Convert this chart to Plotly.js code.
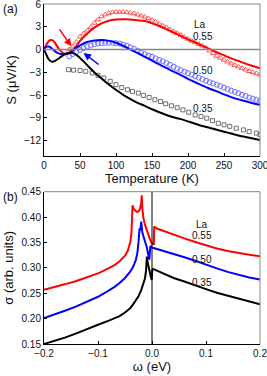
<!DOCTYPE html>
<html>
<head>
<meta charset="utf-8">
<script src="https://cdn.plot.ly/plotly-3.0.1.min.js"></script>
<style>html,body{margin:0;padding:0;background:#fff;}#chart{width:267px;height:376px;}</style>
</head>
<body>
<div id="chart"></div>
<script>
// ---------- Panel (a): thermopower S(T) ----------
var thTemp = [0,3,6,9,12,15,20,25,30,35,40,45,50,55,60,70,80,90,100,110,120,130,140,150,160,170,180,190,200,210,220,230,240,250,260,270,280,290,300];
var thS055 = [0,0.6,1.05,1.25,1.2,0.9,0.2,-0.35,-0.55,-0.45,-0.05,0.5,1.15,1.65,2.1,2.9,3.45,3.8,3.95,4.0,3.95,3.85,3.75,3.45,3.1,2.7,2.25,1.8,1.35,0.95,0.5,0.1,-0.35,-0.75,-1.15,-1.5,-1.85,-2.15,-2.45];
var thS050 = [0,0.35,0.4,0.3,0.05,-0.2,-0.5,-0.6,-0.55,-0.4,-0.1,0.25,0.55,0.8,1.0,1.2,1.25,1.15,0.9,0.5,0.0,-0.45,-0.95,-1.45,-1.95,-2.42,-2.9,-3.35,-3.85,-4.3,-4.75,-5.15,-5.5,-5.9,-6.25,-6.55,-6.8,-7.05,-7.27];
var thS035 = [0,-0.6,-1.2,-1.5,-1.6,-1.5,-1.2,-0.85,-0.6,-0.45,-0.45,-0.7,-1.1,-1.55,-2.05,-3.0,-3.8,-4.6,-5.3,-5.95,-6.5,-7.0,-7.4,-7.85,-8.25,-8.6,-8.9,-9.15,-9.45,-9.75,-10.05,-10.3,-10.55,-10.8,-11.05,-11.3,-11.5,-11.7,-11.9];

var expTemp5 = [35,40,45,50,55,60,65,70,75,80,85,90,95,100,105,110,115,120,125,130,135,140,145,150,155,160,165,170,175,180,185,190,195,200,205,210,215,220,225,230,235,240,245,250,255,260,265,270,275,280,285,290,295,300];
var expS055 = [0.0,0.4,1.0,1.7,2.1,2.5,2.95,3.5,3.95,4.35,4.6,4.8,4.9,4.95,4.95,4.95,4.9,4.85,4.75,4.6,4.45,4.3,4.1,3.9,3.65,3.4,3.15,2.9,2.64,2.4,2.15,1.9,1.65,1.4,1.15,0.95,0.72,0.5,0.2,-0.15,-0.5,-0.85,-1.1,-1.35,-1.6,-1.85,-2.05,-2.25,-2.45,-2.65,-2.85,-3.0,-3.15,-3.3];
var expS050 = [-0.9,-0.6,-0.3,-0.05,0.2,0.4,0.55,0.7,0.8,0.85,0.88,0.9,0.9,0.85,0.8,0.65,0.5,0.3,0.1,-0.15,-0.4,-0.6,-0.8,-0.95,-1.15,-1.35,-1.55,-1.76,-2.0,-2.25,-2.5,-2.7,-2.9,-3.1,-3.3,-3.5,-3.7,-3.9,-4.1,-4.3,-4.45,-4.62,-4.8,-5.0,-5.2,-5.4,-5.55,-5.75,-5.95,-6.1,-6.3,-6.45,-6.6,-6.7];
var expTemp035 = [34,41,50,58,67,75,83,92,100,108,116,123,131,138,146,154,162,169,177,185,193,201,210,218,226,234,242,250,258,267,277,285,295,300];
var expS035 = [-2.64,-2.7,-2.75,-2.86,-3.08,-3.39,-3.74,-4.18,-4.62,-5.0,-5.28,-5.5,-5.72,-6.03,-6.3,-6.6,-6.83,-7.13,-7.4,-7.65,-7.93,-8.25,-8.6,-8.8,-9.03,-9.35,-9.7,-9.9,-10.1,-10.35,-10.57,-10.8,-11.0,-11.2];

// ---------- Panel (b): sigma(omega) ----------
var omega055 = [-0.2,-0.18,-0.16,-0.14,-0.12,-0.10,-0.09,-0.08,-0.07,-0.06,-0.055,-0.05,-0.045,-0.042,-0.040,-0.038,-0.037,-0.036,-0.034,-0.031,-0.028,-0.025,-0.022,-0.020,-0.019,-0.018,-0.016,-0.013,-0.010,-0.007,-0.004,-0.001,0.001,0.0035,0.004,0.01,0.02,0.03,0.04,0.06,0.08,0.10,0.12,0.14,0.16,0.18,0.20];
var sigma055 = [0.257,0.262,0.268,0.274,0.281,0.289,0.294,0.299,0.305,0.313,0.318,0.324,0.333,0.342,0.352,0.37,0.39,0.423,0.416,0.412,0.410,0.411,0.416,0.428,0.443,0.42,0.398,0.385,0.375,0.366,0.357,0.350,0.347,0.347,0.381,0.377,0.373,0.370,0.366,0.358,0.351,0.344,0.338,0.333,0.329,0.326,0.323];
var omega050 = [-0.2,-0.18,-0.16,-0.14,-0.12,-0.10,-0.09,-0.08,-0.07,-0.06,-0.05,-0.04,-0.035,-0.03,-0.027,-0.025,-0.023,-0.022,-0.021,-0.020,-0.018,-0.016,-0.013,-0.010,-0.008,-0.006,-0.005,-0.004,-0.003,0.0,0.01,0.02,0.04,0.06,0.08,0.10,0.12,0.14,0.16,0.18,0.20];
var sigma050 = [0.201,0.208,0.216,0.224,0.233,0.243,0.249,0.255,0.262,0.27,0.28,0.293,0.302,0.315,0.33,0.35,0.378,0.374,0.38,0.391,0.37,0.36,0.352,0.342,0.333,0.322,0.316,0.33,0.343,0.34,0.337,0.334,0.327,0.321,0.314,0.306,0.299,0.292,0.286,0.281,0.277];
var omega035 = [-0.2,-0.18,-0.16,-0.14,-0.12,-0.10,-0.08,-0.06,-0.05,-0.04,-0.035,-0.03,-0.025,-0.02,-0.016,-0.013,-0.011,-0.0095,-0.008,-0.006,-0.004,-0.002,-0.0005,0.0005,0.002,0.01,0.02,0.04,0.06,0.08,0.10,0.12,0.14,0.16,0.18,0.20];
var sigma035 = [0.150,0.156,0.163,0.171,0.18,0.188,0.196,0.205,0.212,0.221,0.228,0.235,0.244,0.256,0.268,0.279,0.295,0.322,0.31,0.298,0.29,0.282,0.276,0.296,0.298,0.294,0.289,0.28,0.273,0.265,0.258,0.251,0.245,0.239,0.233,0.228];

var FONT = 'Liberation Sans, Arial, sans-serif';

var traces = [
  {x: expTemp5, y: expS055, mode: 'markers', xaxis: 'x', yaxis: 'y', marker: {symbol: 'triangle-up-open', size: 5, color: '#ff5a5a', line: {width: 1}}, showlegend: false},
  {x: expTemp5, y: expS050, mode: 'markers', xaxis: 'x', yaxis: 'y', marker: {symbol: 'circle-open', size: 5, color: '#7070ff', line: {width: 1}}, showlegend: false},
  {x: expTemp035, y: expS035, mode: 'markers', xaxis: 'x', yaxis: 'y', marker: {symbol: 'square-open', size: 4, color: '#707070', line: {width: 1}}, showlegend: false},
  {x: thTemp, y: thS055, mode: 'lines', xaxis: 'x', yaxis: 'y', line: {color: '#ff0000', width: 2, shape: 'spline'}, showlegend: false},
  {x: thTemp, y: thS050, mode: 'lines', xaxis: 'x', yaxis: 'y', line: {color: '#0000ff', width: 2, shape: 'spline'}, showlegend: false},
  {x: thTemp, y: thS035, mode: 'lines', xaxis: 'x', yaxis: 'y', line: {color: '#000000', width: 2, shape: 'spline'}, showlegend: false},
  {x: omega055, y: sigma055, mode: 'lines', xaxis: 'x2', yaxis: 'y2', line: {color: '#ff0000', width: 2}, showlegend: false},
  {x: omega050, y: sigma050, mode: 'lines', xaxis: 'x2', yaxis: 'y2', line: {color: '#0000ff', width: 2}, showlegend: false},
  {x: omega035, y: sigma035, mode: 'lines', xaxis: 'x2', yaxis: 'y2', line: {color: '#000000', width: 2}, showlegend: false}
];

var axisCommon = {
  showgrid: false, zeroline: false, showline: true, linecolor: '#000', linewidth: 1,
  ticks: 'inside', ticklen: 3, tickwidth: 1, tickcolor: '#000', ticklabeloverflow: 'allow',
  tickfont: {family: FONT, size: 10, color: '#111'}, mirror: false
};
function ax(o) { var r = {}; for (var k in axisCommon) r[k] = axisCommon[k]; for (var k2 in o) r[k2] = o[k2]; return r; }

var layout = {
  width: 267, height: 376,
  margin: {l: 44, r: 7, t: 4, b: 32},
  paper_bgcolor: '#fff', plot_bgcolor: '#fff',
  font: {family: FONT, size: 10, color: '#111'},
  xaxis: ax({anchor: 'y', domain: [0, 1], range: [0, 300], tickvals: [0,50,100,150,200,250,300],
    title: {text: 'Temperature (K)', font: {family: FONT, size: 13, color: '#111'}, standoff: 2}}),
  yaxis: ax({anchor: 'x', domain: [0.553, 1], range: [-14, 6], tickvals: [-12,-9,-6,-3,0,3,6],
    title: {text: 'S (\u03bcV/K)', font: {family: FONT, size: 13, color: '#111'}, standoff: 4}}),
  xaxis2: ax({anchor: 'y2', domain: [0, 1], range: [-0.2, 0.2], tickvals: [-0.2,-0.1,0,0.1,0.2], tickformat: '.1f',
    title: {text: '\u03c9 (eV)', font: {family: FONT, size: 13, color: '#111'}, standoff: 2}}),
  yaxis2: ax({anchor: 'x2', domain: [0, 0.448], range: [0.15, 0.45], tickvals: [0.15,0.2,0.25,0.3,0.35,0.4,0.45], tickformat: '.2f',
    title: {text: '\u03c3 (arb. units)', font: {family: FONT, size: 13, color: '#111'}, standoff: 4}}),
  shapes: [
    {type: 'line', xref: 'x domain', yref: 'y', x0: 0, x1: 1, y0: 0, y1: 0, line: {color: '#888', width: 1.5}},
    {type: 'line', xref: 'x domain', yref: 'y domain', x0: 0, x1: 1, y0: 1, y1: 1, line: {color: '#888', width: 1}},
    {type: 'line', xref: 'x domain', yref: 'y domain', x0: 1, x1: 1, y0: 0, y1: 1, line: {color: '#888', width: 1}},
    {type: 'line', xref: 'x2', yref: 'y2 domain', x0: 0, x1: 0, y0: 0, y1: 1, line: {color: '#000', width: 1}},
    {type: 'line', xref: 'x2 domain', yref: 'y2 domain', x0: 0, x1: 1, y0: 1, y1: 1, line: {color: '#888', width: 1}},
    {type: 'line', xref: 'x2 domain', yref: 'y2 domain', x0: 1, x1: 1, y0: 0, y1: 1, line: {color: '#888', width: 1}}
  ],
  annotations: [
    {text: '(a)', xref: 'paper', yref: 'paper', x: -0.2, y: 0.985, xanchor: 'left', yanchor: 'middle', showarrow: false, font: {family: FONT, size: 12, color: '#111'}},
    {text: '(b)', xref: 'paper', yref: 'paper', x: -0.2, y: 0.433, xanchor: 'left', yanchor: 'middle', showarrow: false, font: {family: FONT, size: 12, color: '#111'}},
    {text: 'La', xref: 'x', yref: 'y', x: 217, y: 3.3, showarrow: false, font: {family: FONT, size: 10, color: '#111'}},
    {text: '0.55', xref: 'x', yref: 'y', x: 221, y: 1.76, showarrow: false, font: {family: FONT, size: 10, color: '#111'}},
    {text: '0.50', xref: 'x', yref: 'y', x: 221, y: -2.73, showarrow: false, font: {family: FONT, size: 10, color: '#111'}},
    {text: '0.35', xref: 'x', yref: 'y', x: 221, y: -7.7, showarrow: false, font: {family: FONT, size: 10, color: '#111'}},
    {text: '', xref: 'x', yref: 'y', axref: 'x', ayref: 'y', x: 38, y: 0.44, ax: 20, ay: 2.86, showarrow: true, arrowhead: 2, arrowsize: 1, arrowwidth: 1.5, arrowcolor: '#ff0000'},
    {text: '', xref: 'x', yref: 'y', axref: 'x', ayref: 'y', x: 55, y: -0.44, ax: 78, ay: -2.11, showarrow: true, arrowhead: 2, arrowsize: 1, arrowwidth: 1.5, arrowcolor: '#0000ff'},
    {text: 'La', xref: 'x2', yref: 'y2', x: 0.0935, y: 0.385, showarrow: false, font: {family: FONT, size: 10, color: '#111'}},
    {text: '0.55', xref: 'x2', yref: 'y2', x: 0.0935, y: 0.3634, showarrow: false, font: {family: FONT, size: 10, color: '#111'}},
    {text: '0.50', xref: 'x2', yref: 'y2', x: 0.0935, y: 0.317, showarrow: false, font: {family: FONT, size: 10, color: '#111'}},
    {text: '0.35', xref: 'x2', yref: 'y2', x: 0.0935, y: 0.2705, showarrow: false, font: {family: FONT, size: 10, color: '#111'}}
  ]
};

Plotly.newPlot('chart', traces, layout, {staticPlot: true, displayModeBar: false});
</script>
</body>
</html>
